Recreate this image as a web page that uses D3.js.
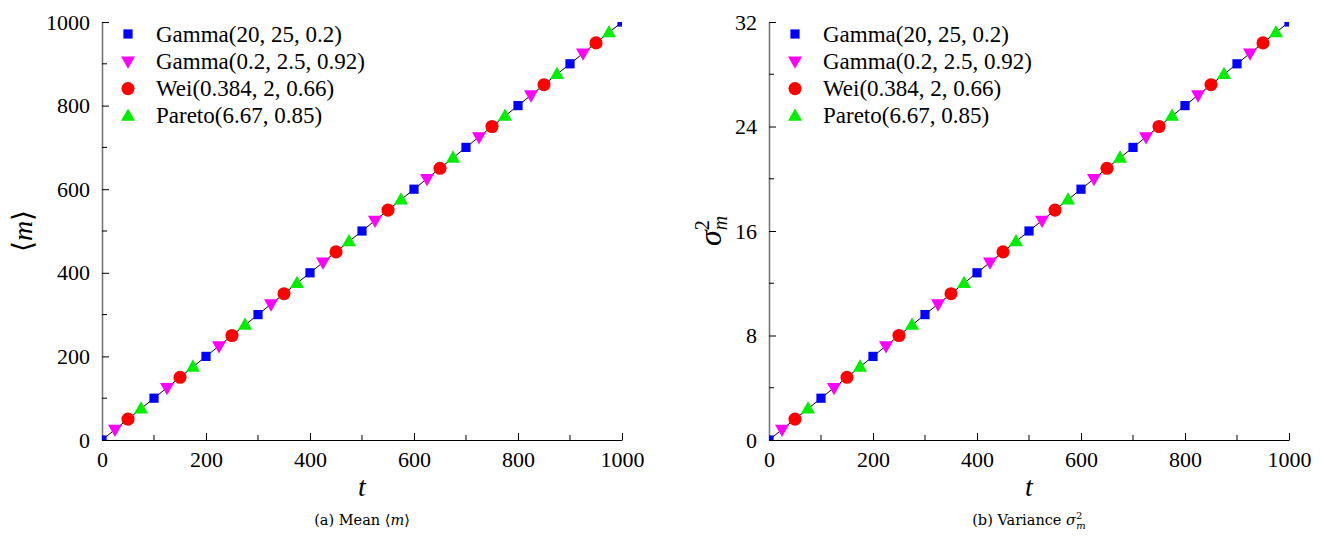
<!DOCTYPE html>
<html>
<head>
<meta charset="utf-8">
<script src="https://cdn.jsdelivr.net/npm/d3@7"></script>
</head>
<body style="margin:0">
<script>
// marker positions (t) and values
const tGammaA = [0, 100, 200, 300, 400, 500, 600, 700, 800, 900, 1000];
const tGammaB = [25, 125, 225, 325, 425, 525, 625, 725, 825, 925];
const tWei = [50, 150, 250, 350, 450, 550, 650, 750, 850, 950];
const tPareto = [75, 175, 275, 375, 475, 575, 675, 775, 875, 975];

const meanGammaA = [0, 100, 200, 300, 400, 500, 600, 700, 800, 900, 1000];
const meanGammaB = [25, 125, 225, 325, 425, 525, 625, 725, 825, 925];
const meanWei = [50, 150, 250, 350, 450, 550, 650, 750, 850, 950];
const meanPareto = [75, 175, 275, 375, 475, 575, 675, 775, 875, 975];

const varGammaA = [0, 3.2, 6.4, 9.6, 12.8, 16, 19.2, 22.4, 25.6, 28.8, 32];
const varGammaB = [0.8, 4, 7.2, 10.4, 13.6, 16.8, 20, 23.2, 26.4, 29.6];
const varWei = [1.6, 4.8, 8, 11.2, 14.4, 17.6, 20.8, 24, 27.2, 30.4];
const varPareto = [2.4, 5.6, 8.8, 12, 15.2, 18.4, 21.6, 24.8, 28, 31.2];

const lineT = [0, 1000];
const lineMean = [0, 1000];
const lineVar = [0, 32];

const seriesNames = ['Gamma(20, 25, 0.2)', 'Gamma(0.2, 2.5, 0.92)', 'Wei(0.384, 2, 0.66)', 'Pareto(6.67, 0.85)'];
const seriesColors = ['#0000ff', '#ff00ff', '#ff0000', '#00ee00'];
const seriesShapes = ['square', 'down', 'circle', 'up'];

const xTicks = [0, 200, 400, 600, 800, 1000];
const meanTicks = [0, 200, 400, 600, 800, 1000];
const varTicks = [0, 8, 16, 24, 32];

const W = 1331, H = 539;
const mainFont = 'Times New Roman';
const capFont = 'DejaVu Serif';

const svg = d3.select('body').append('svg')
    .attr('width', W)
    .attr('height', H)
    .attr('font-family', mainFont);

let shapePath = function(shape) {
    if (shape === 'square') return d3.symbol(d3.symbolSquare, 85)();
    if (shape === 'circle') return d3.symbol(d3.symbolCircle, 135)();
    if (shape === 'up') return 'M0,-7.5L7,4.8L-7,4.8Z';
    return 'M0,7.5L7,-4.8L-7,-4.8Z';
};

// every text carries its family both ways
let label = function(parent, family) {
    return parent.append('text')
        .attr('font-family', family || mainFont)
        .style('font-family', family || mainFont);
};

let draw_panel = function(id, left, yMax, yTicks, series, lineY, caption) {
    const top = 22, bottom = 440, width = 520;
    const x = d3.scaleLinear().domain([0, 1000]).range([left, left + width]);
    const y = d3.scaleLinear().domain([0, yMax]).range([bottom, top]);
    const g = svg.append('g');

    g.append('clipPath').attr('id', 'clip-' + id)
        .append('rect')
        .attr('x', left).attr('y', top)
        .attr('width', width).attr('height', bottom - top);

    // minor ticks half way between the labelled ones
    const xMinor = d3.range(100, 1000, 200);
    const yStep = yTicks[1] - yTicks[0];
    const yMinor = d3.range(yStep / 2, yMax, yStep);

    const xAxis = g.append('g')
        .attr('transform', 'translate(0,' + bottom + ')')
        .call(d3.axisBottom(x).tickValues(xTicks).tickFormat(d3.format('d'))
            .tickSizeInner(-7).tickSizeOuter(0).tickPadding(11));
    xAxis.attr('font-family', mainFont).attr('font-size', 22);
    xAxis.selectAll('text').attr('font-family', mainFont).style('font-family', mainFont)
        .attr('font-size', 22).attr('fill', '#000');
    xAxis.select('.domain').attr('stroke', '#000').attr('stroke-width', 1.2);
    xAxis.selectAll('.tick line').attr('stroke', '#000');
    g.append('g').selectAll('line').data(xMinor).enter().append('line')
        .attr('x1', (d) => x(d)).attr('x2', (d) => x(d))
        .attr('y1', bottom).attr('y2', bottom - 5)
        .attr('stroke', '#000');

    const yAxis = g.append('g')
        .attr('transform', 'translate(' + left + ',0)')
        .call(d3.axisLeft(y).tickValues(yTicks).tickFormat(d3.format('d'))
            .tickSizeInner(-7).tickSizeOuter(0).tickPadding(12));
    yAxis.attr('font-family', mainFont).attr('font-size', 22);
    yAxis.selectAll('text').attr('font-family', mainFont).style('font-family', mainFont)
        .attr('font-size', 22).attr('fill', '#000');
    yAxis.select('.domain').attr('stroke', '#777').attr('stroke-width', 1.6);
    yAxis.selectAll('.tick line').attr('stroke', '#000');
    g.append('g').selectAll('line').data(yMinor).enter().append('line')
        .attr('x1', left).attr('x2', left + 5)
        .attr('y1', (d) => y(d)).attr('y2', (d) => y(d))
        .attr('stroke', '#000');

    const plot = g.append('g').attr('clip-path', 'url(#clip-' + id + ')');
    const line = d3.line().x((d) => x(d[0])).y((d) => y(d[1]));
    plot.append('path')
        .datum(lineT.map((t, i) => [t, lineY[i]]))
        .attr('fill', 'none')
        .attr('stroke', '#000')
        .attr('stroke-width', 1)
        .attr('d', line);

    series.forEach(function(s, k) {
        plot.append('g').selectAll('path')
            .data(s.t.map((t, i) => [t, s.v[i]]))
            .enter().append('path')
            .attr('d', shapePath(seriesShapes[k]))
            .attr('transform', (d) => 'translate(' + x(d[0]) + ',' + y(d[1]) + ')')
            .attr('fill', seriesColors[k]);
    });

    // legend
    const leg = g.append('g').attr('transform', 'translate(' + (left + 26) + ',34)');
    seriesNames.forEach(function(name, k) {
        leg.append('path')
            .attr('d', shapePath(seriesShapes[k]))
            .attr('transform', 'translate(0,' + (k * 27.3) + ')')
            .attr('fill', seriesColors[k]);
        label(leg)
            .attr('x', 28).attr('y', k * 27.3)
            .attr('dy', '0.33em')
            .attr('font-size', 23)
            .text(name);
    });

    label(g)
        .attr('x', left + width / 2).attr('y', 496)
        .attr('text-anchor', 'middle')
        .attr('font-size', 28).attr('font-style', 'italic')
        .text('t');

    label(g, capFont)
        .attr('x', left + width / 2).attr('y', 525)
        .attr('text-anchor', 'middle')
        .attr('font-size', 14.5)
        .call(caption);
    return g;
};

draw_panel('a', 102, 1000, meanTicks, [
    {t: tGammaA, v: meanGammaA},
    {t: tGammaB, v: meanGammaB},
    {t: tWei, v: meanWei},
    {t: tPareto, v: meanPareto}
], lineMean, function(t) {
    t.append('tspan').text('(a) Mean \u27e8');
    t.append('tspan').attr('font-style', 'italic').text('m');
    t.append('tspan').text('\u27e9');
});

draw_panel('b', 769, 32, varTicks, [
    {t: tGammaA, v: varGammaA},
    {t: tGammaB, v: varGammaB},
    {t: tWei, v: varWei},
    {t: tPareto, v: varPareto}
], lineVar, function(t) {
    t.append('tspan').text('(b) Variance ');
    t.append('tspan').attr('font-style', 'italic').text('\u03c3');
    t.append('tspan').attr('font-size', 10).attr('dy', -6).text('2');
    t.append('tspan').attr('font-size', 10).attr('font-style', 'italic').attr('dx', -6).attr('dy', 10).text('m');
});

// y labels
const yl = label(svg)
    .attr('transform', 'translate(32,231) rotate(-90)')
    .attr('text-anchor', 'middle')
    .attr('font-size', 28);
yl.append('tspan').text('\u27e8');
yl.append('tspan').attr('font-style', 'italic').text('m');
yl.append('tspan').text('\u27e9');

const yr = label(svg)
    .attr('transform', 'translate(721,231) rotate(-90)')
    .attr('text-anchor', 'middle')
    .attr('font-size', 32);
yr.append('tspan').attr('font-style', 'italic').text('\u03c3');
yr.append('tspan').attr('font-size', 20).attr('dy', -12).text('2');
yr.append('tspan').attr('font-size', 20).attr('font-style', 'italic').attr('dx', -10).attr('dy', 18).text('m');
</script>
</body>
</html>
